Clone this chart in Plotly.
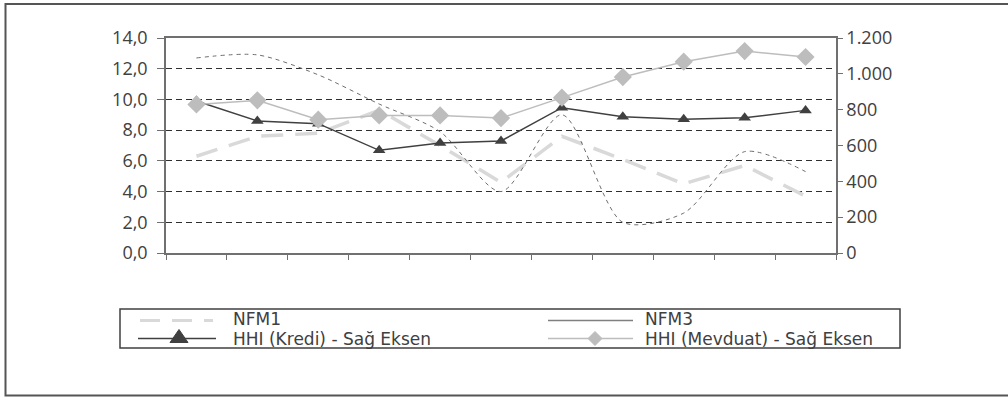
import plotly.graph_objects as go

# ---- data ----
periods = ["1", "2", "3", "4", "5", "6", "7", "8", "9", "10", "11"]
nfm1 = [6.3, 7.6, 7.8, 9.3, 7.0, 4.6, 7.6, 6.1, 4.5, 5.7, 3.7]
nfm3 = [12.7, 12.9, 11.6, 9.7, 7.9, 4.0, 9.0, 2.0, 2.6, 6.6, 5.3]
hhi_kredi = [848, 737, 722, 573, 614, 625, 811, 761, 746, 755, 796]
hhi_mevduat = [829, 852, 744, 768, 768, 753, 867, 982, 1068, 1127, 1094]

left_ticks = [0, 2, 4, 6, 8, 10, 12, 14]
right_ticks = [0, 200, 400, 600, 800, 1000, 1200]

FONT = "Open Sans"
LEG_FONT = "DejaVu Sans"
TXT = "#404040"

# plot area in pixels (for placing the hand-made legend in paper units)
L, R, T, B = 166, 836, 38, 253
def px(x):
    return (x - L) / (R - L)
def py(y):
    return (B - y) / (B - T)

fig = go.Figure()
fig.add_trace(go.Scatter(
    x=periods, y=nfm1, name="NFM1", mode="lines",
    line=dict(color="#d9d9d9", width=3.5, dash="22px,12px"),
    yaxis="y"))
fig.add_trace(go.Scatter(
    x=periods, y=nfm3, name="NFM3", mode="lines",
    line=dict(color="#6e6e6e", width=1, dash="4px,4px", shape="spline", smoothing=0.8),
    yaxis="y"))
fig.add_trace(go.Scatter(
    x=periods, y=hhi_kredi, name="HHI (Kredi) - Sağ Eksen", mode="lines+markers",
    line=dict(color="#404040", width=1.5),
    marker=dict(symbol="triangle-up", size=11, color="#404040"),
    yaxis="y2"))
fig.add_trace(go.Scatter(
    x=periods, y=hhi_mevduat, name="HHI (Mevduat) - Sağ Eksen", mode="lines+markers",
    line=dict(color="#bdbdbd", width=1.5),
    marker=dict(symbol="diamond", size=14, color="#bdbdbd"),
    yaxis="y2"))

ROW1, ROW2 = 318.5, 338.5
shapes = [
    # legend frame
    dict(type="rect", xref="paper", yref="paper",
         x0=px(120), x1=px(900), y0=py(348), y1=py(309),
         line=dict(color="#404040", width=1.5), fillcolor="rgba(0,0,0,0)"),
    # outer chart frame
    dict(type="rect", xref="paper", yref="paper",
         x0=px(5.5), x1=px(1020), y0=py(395.5), y1=py(4),
         line=dict(color="#555555", width=2), fillcolor="rgba(0,0,0,0)"),
    # legend swatches
    dict(type="line", xref="paper", yref="paper", x0=px(140), x1=px(213), y0=py(ROW1 + 2), y1=py(ROW1 + 2),
         line=dict(color="#d9d9d9", width=3, dash="20px,12px")),
    dict(type="line", xref="paper", yref="paper", x0=px(138), x1=px(216), y0=py(ROW2), y1=py(ROW2),
         line=dict(color="#404040", width=1.5)),
    dict(type="path", xref="paper", yref="paper", xsizemode="pixel", ysizemode="pixel",
         xanchor=px(179), yanchor=py(ROW2 - 1), path="M -9,-5 L 9,-5 L 0,8 Z",
         fillcolor="#404040", line=dict(color="#404040", width=1)),
    dict(type="line", xref="paper", yref="paper", x0=px(548), x1=px(633), y0=py(ROW1 + 2), y1=py(ROW1 + 2),
         line=dict(color="#808080", width=1.5)),
    dict(type="line", xref="paper", yref="paper", x0=px(548), x1=px(633), y0=py(ROW2), y1=py(ROW2),
         line=dict(color="#bdbdbd", width=1.5)),
    dict(type="path", xref="paper", yref="paper", xsizemode="pixel", ysizemode="pixel",
         xanchor=px(595), yanchor=py(ROW2), path="M -7,0 L 0,7 L 7,0 L 0,-7 Z",
         fillcolor="#bdbdbd", line=dict(color="#bdbdbd", width=1)),
]

legend_font = dict(family=LEG_FONT, size=17, color=TXT)
def leg_text(text, x, y):
    return dict(text=text, x=px(x), y=py(y), xref="paper", yref="paper",
                xanchor="left", yanchor="middle", showarrow=False,
                borderpad=0, font=legend_font)

annotations = [
    leg_text("NFM1", 232, ROW1),
    leg_text("HHI (Kredi) - Sağ Eksen", 232, ROW2),
    leg_text("NFM3", 644, ROW1),
    leg_text("HHI (Mevduat) - Sağ Eksen", 644, ROW2),
]

fig.update_layout(
    width=1008, height=398,
    margin=dict(l=L, r=1008 - R, t=T, b=398 - B, autoexpand=False),
    paper_bgcolor="white", plot_bgcolor="white",
    separators=",.",
    font=dict(family=FONT, color=TXT, size=16),
    showlegend=False,
    xaxis=dict(
        type="category", range=[-0.5, 10.5], showticklabels=False,
        tickson="boundaries", ticks="outside", ticklen=5, tickcolor="#707070",
        showline=True, linecolor="#707070", linewidth=1.5, mirror=True,
        showgrid=False, zeroline=False,
    ),
    yaxis=dict(
        range=[0, 14], tickvals=left_ticks, tickformat=".1f",
        ticks="outside", ticklen=7, tickcolor="#707070",
        showline=True, linecolor="#707070", linewidth=1.5,
        showgrid=True, gridcolor="#303030", gridwidth=1, griddash="6px,4px",
        zeroline=False, tickfont=dict(size=18, color=TXT),
        ticklabelstandoff=6,
    ),
    yaxis2=dict(
        range=[0, 1200], tickvals=right_ticks, tickformat=",",
        overlaying="y", side="right",
        ticks="outside", ticklen=5, tickcolor="#707070",
        showline=True, linecolor="#707070", linewidth=1.5,
        showgrid=False, zeroline=False, tickfont=dict(size=18, color=TXT),
        ticklabelstandoff=0,
    ),
    shapes=shapes,
    annotations=annotations,
)

fig.write_html(
    "out.html",
    config={"displayModeBar": False},
    post_script="document.body.style.margin='0';document.body.style.padding='0';",
)
